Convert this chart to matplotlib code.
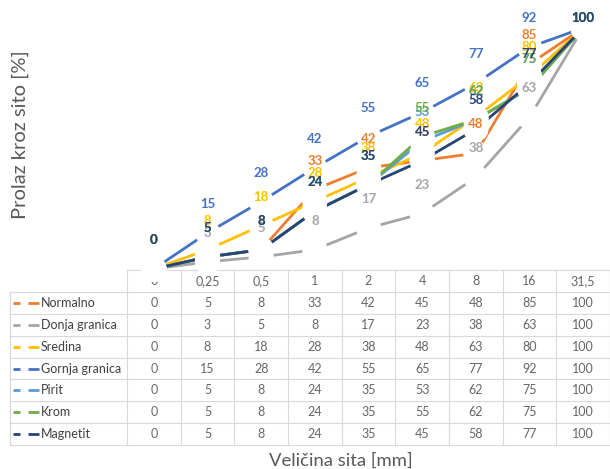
import matplotlib.pyplot as plt
from matplotlib.lines import Line2D

plt.rcParams['font.family'] = ['Lato', 'DejaVu Sans']

# sieve sizes [mm] and passing percentages per mix
sieve_sizes = ['0', '0,25', '0,5', '1', '2', '4', '8', '16', '31,5']
series_names = ['Normalno', 'Donja granica', 'Sredina', 'Gornja granica',
                'Pirit', 'Krom', 'Magnetit']
normalno = [0, 5, 8, 33, 42, 45, 48, 85, 100]
donja_granica = [0, 3, 5, 8, 17, 23, 38, 63, 100]
sredina = [0, 8, 18, 28, 38, 48, 63, 80, 100]
gornja_granica = [0, 15, 28, 42, 55, 65, 77, 92, 100]
pirit = [0, 5, 8, 24, 35, 53, 62, 75, 100]
krom = [0, 5, 8, 24, 35, 55, 62, 75, 100]
magnetit = [0, 5, 8, 24, 35, 45, 58, 77, 100]
series = [normalno, donja_granica, sredina, gornja_granica, pirit, krom, magnetit]
colors = ['#ED7D31', '#A5A5A5', '#FFC000', '#4472C4', '#5B9BD5', '#70AD47', '#264478']

W, H = 610, 469
fig = plt.figure(figsize=(W / 100, H / 100), dpi=100)


def fx(px):
    return px / W


def fy(py):
    return 1 - py / H


# plot area sits right above the data table
ax = fig.add_axes([fx(127), fy(269), fx(610) - fx(127), fy(0) - fy(269)])
ax.set_zorder(5)
ax.patch.set_visible(False)
ax.set_xlim(-0.5, 8.5)
ax.set_ylim(0, 111.6)
ax.axis('off')

xs = list(range(len(sieve_sizes)))
for vals, c in zip(series, colors):
    ax.plot(xs, vals, color=c, lw=2.0, solid_capstyle='butt',
            clip_on=False, zorder=2)

# white markers break the lines at each point
for vals in series:
    ax.scatter(xs, vals, s=330, c='white', edgecolors='none',
               zorder=3, clip_on=False)

for vals, c in zip(series, colors):
    for i, v in enumerate(vals):
        ax.text(i, min(v + 12, 104), str(v), color=c, fontsize=9.5,
                fontweight='bold', ha='center', va='center', zorder=4,
                clip_on=False)

# data table
grid = '#D9D9D9'
left, key_col, right = 10, 127, 609.5
top, head_bot, bot = 270, 292, 445
col_w = (610 - key_col) / len(sieve_sizes)
row_h = (bot - head_bot) / len(series_names)


def hline(y, x0, x1):
    fig.add_artist(Line2D([fx(x0), fx(x1)], [fy(y), fy(y)],
                          transform=fig.transFigure, color=grid, lw=0.8))


def vline(x, y0, y1):
    fig.add_artist(Line2D([fx(x), fx(x)], [fy(y0), fy(y1)],
                          transform=fig.transFigure, color=grid, lw=0.8))


hline(top, key_col, right)
for r in range(len(series_names) + 1):
    hline(head_bot + r * row_h, left, right)
vline(left, head_bot, bot)
for k in range(len(sieve_sizes) + 1):
    vline(min(key_col + k * col_w, right), top, bot)

for k, lab in enumerate(sieve_sizes):
    fig.text(fx(key_col + (k + 0.5) * col_w), fy((top + head_bot) / 2), lab,
             ha='center', va='center', fontsize=9, color='#666666')

for r, (name, vals, c) in enumerate(zip(series_names, series, colors)):
    yc = fy(head_bot + (r + 0.5) * row_h)
    fig.add_artist(Line2D([fx(13), fx(20)], [yc, yc], transform=fig.transFigure,
                          color=c, lw=2.0, solid_capstyle='butt'))
    fig.add_artist(Line2D([fx(28), fx(39)], [yc, yc], transform=fig.transFigure,
                          color=c, lw=2.0, solid_capstyle='butt'))
    fig.text(fx(41), yc, name, ha='left', va='center', fontsize=9,
             color='#404040')
    for k, v in enumerate(vals):
        fig.text(fx(key_col + (k + 0.5) * col_w), yc, str(v), ha='center',
                 va='center', fontsize=9, color='#666666')

fig.text(fx(341), fy(461), 'Veličina sita [mm]', ha='center', va='center',
         fontsize=13.3, color='#595959')
fig.text(fx(20), fy(135), 'Prolaz kroz sito [%]', ha='center', va='center',
         rotation=90, fontsize=14.5, color='#595959')

fig.savefig('out.png', dpi=100)
